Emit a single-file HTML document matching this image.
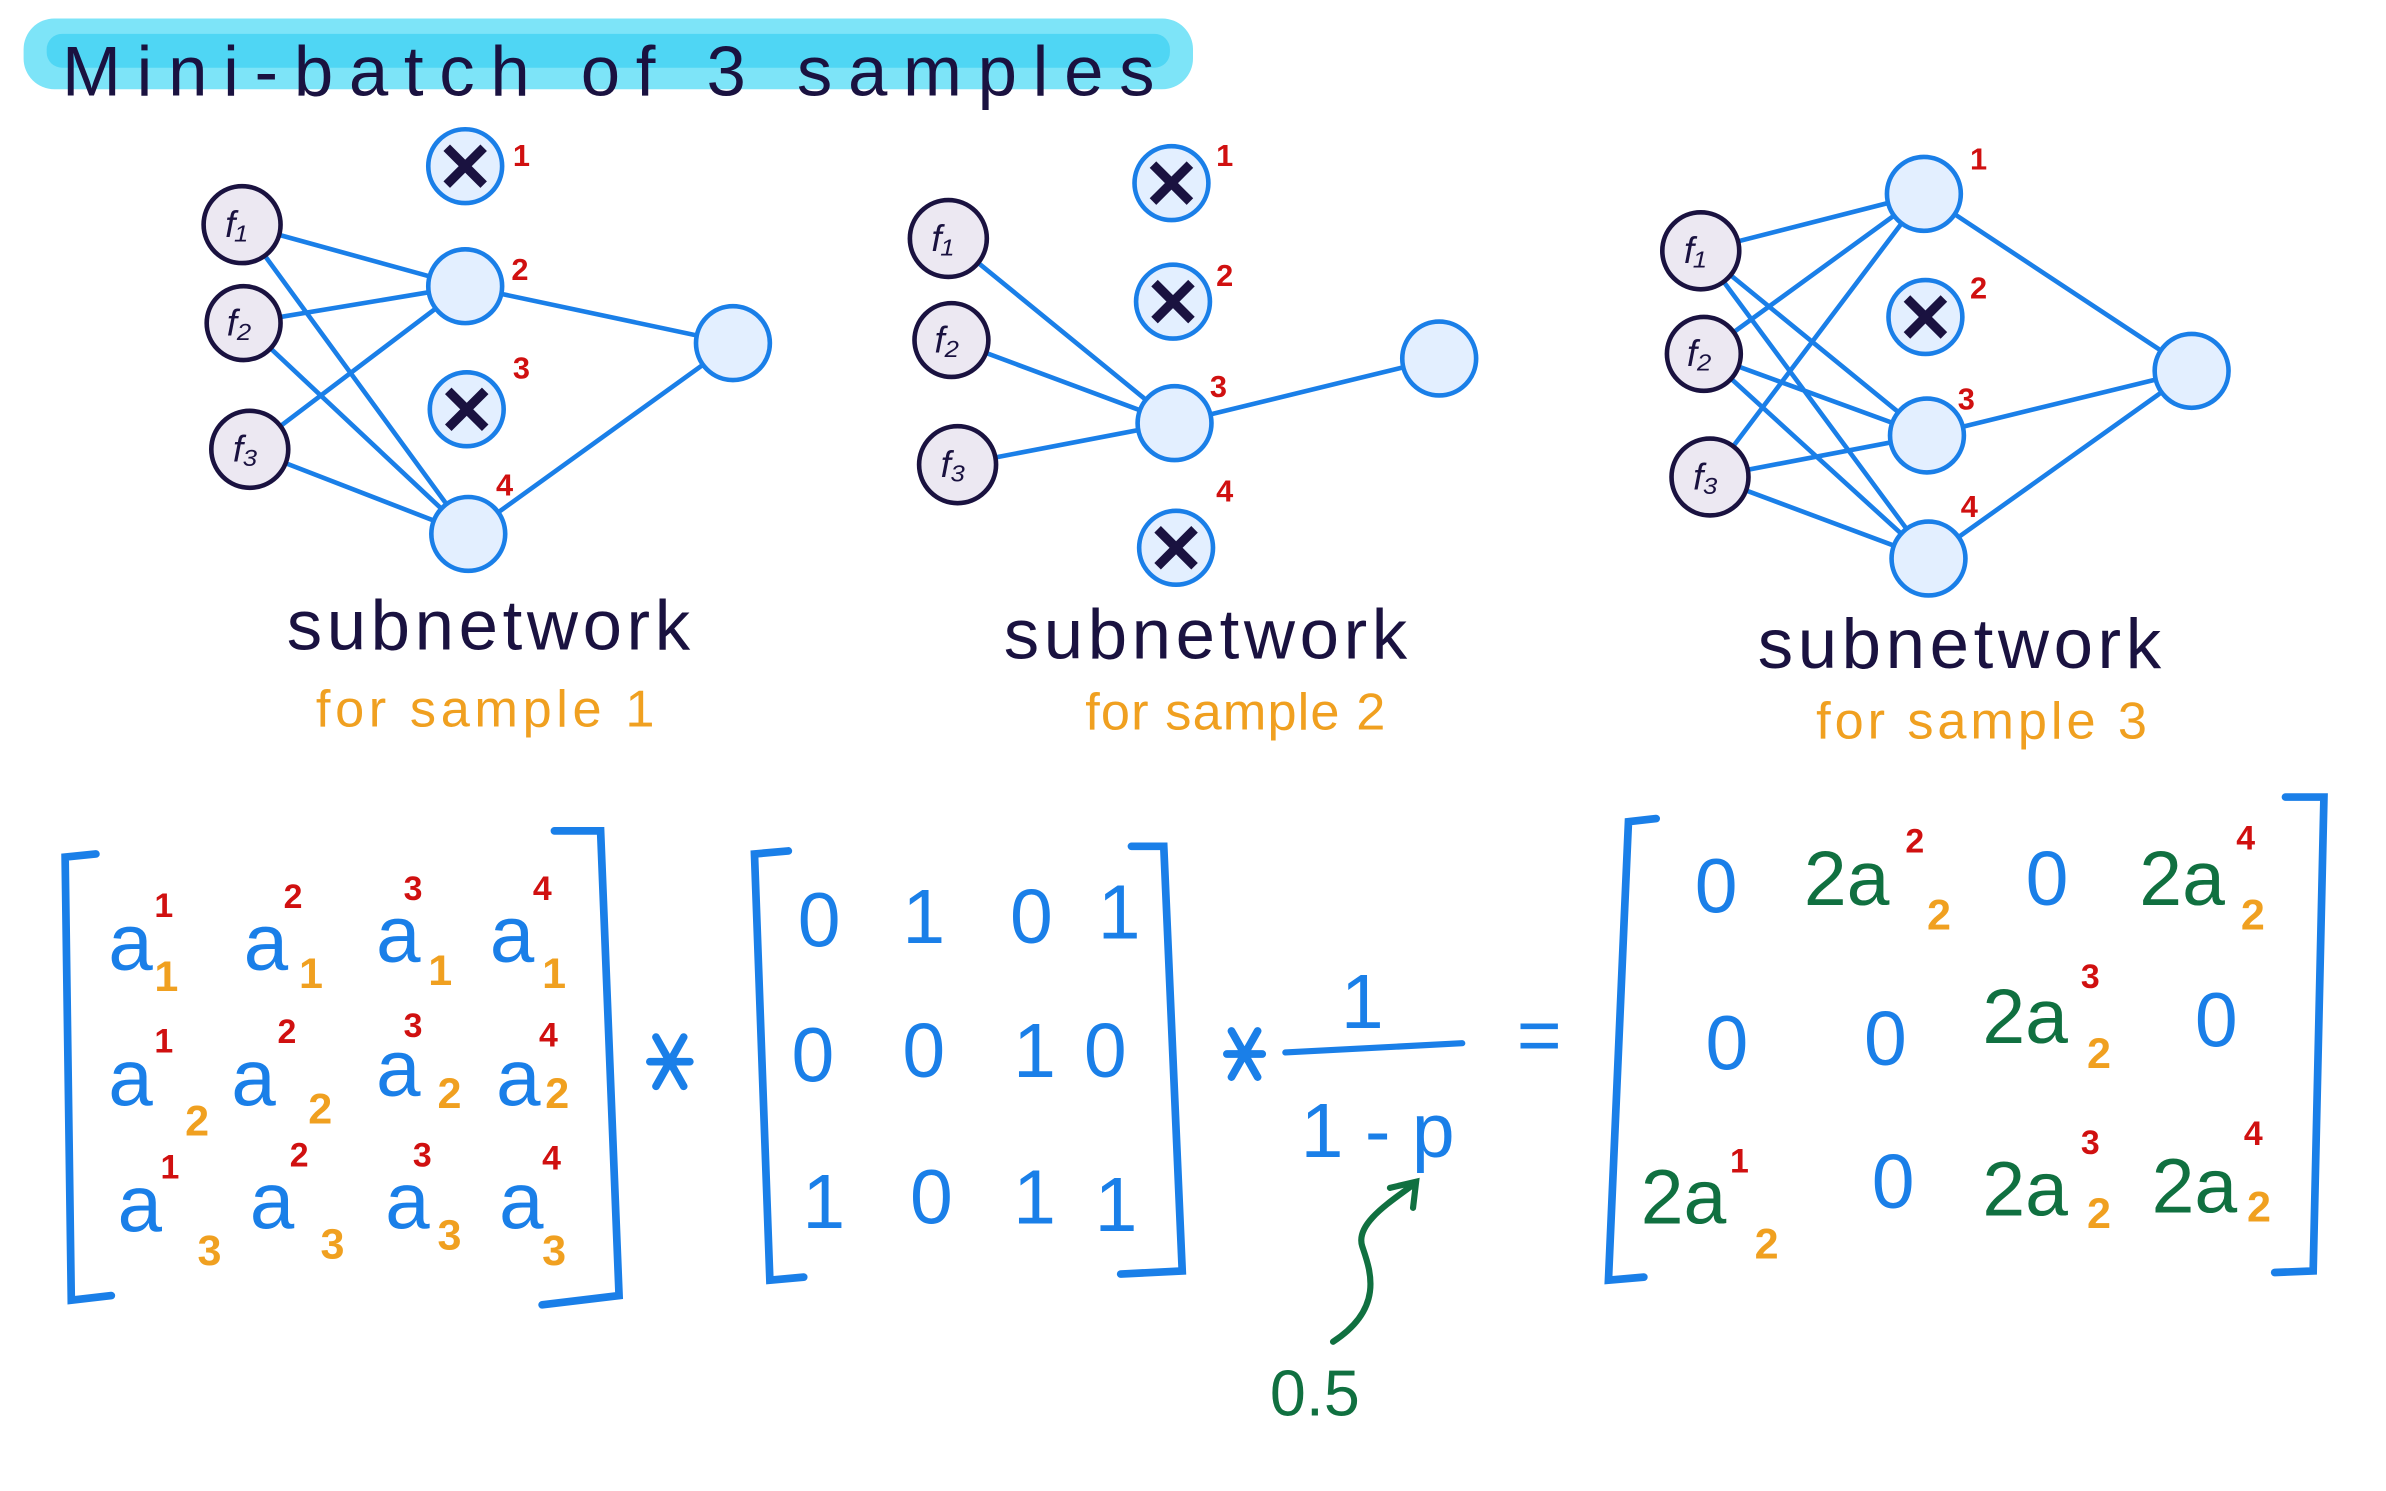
<!DOCTYPE html>
<html><head><meta charset="utf-8"><style>
html,body{margin:0;padding:0;background:#fff}
svg{display:block}
text{font-family:"Liberation Sans",sans-serif}
</style></head><body>
<svg width="2386" height="1491" viewBox="0 0 1550 969" xmlns="http://www.w3.org/2000/svg">
<defs>
<g id="x"><line x1="-12" y1="-12" x2="12" y2="12" stroke="#1a1240" stroke-width="6"/><line x1="12" y1="-12" x2="-12" y2="12" stroke="#1a1240" stroke-width="6"/></g>
</defs>
<rect x="15" y="12" width="760" height="46" rx="20" fill="#7de4f8"/>
<rect x="30" y="22" width="730" height="22" rx="10" fill="#4fd6f4"/>
<text x="40" y="62" font-size="46" fill="#1a1240" textLength="710" lengthAdjust="spacing">Mini-batch of 3 samples</text>

<g stroke="#1a7fe8" stroke-width="3" fill="none">
<path d="M157 146L302 186M157 146L304 347M158 210L302 186M158 210L304 347M162 292L302 186M162 292L304 347M302 186L476 223M304 347L476 223"/>
<path d="M616 155L763 275M618 221L763 275M622 302L763 275M763 275L935 233"/>
<path d="M1105 163L1250 126M1105 163L1252 283M1105 163L1253 363M1107 230L1250 126M1107 230L1252 283M1107 230L1253 363M1111 310L1250 126M1111 310L1252 283M1111 310L1253 363M1250 126L1424 241M1252 283L1424 241M1253 363L1424 241"/>
</g>
<g stroke="#1a1240" stroke-width="3" fill="#ece8f2">
<circle cx="157" cy="146" r="25"/><circle cx="158" cy="210" r="24"/><circle cx="162" cy="292" r="25"/>
<circle cx="616" cy="155" r="25"/><circle cx="618" cy="221" r="24"/><circle cx="622" cy="302" r="25"/>
<circle cx="1105" cy="163" r="25"/><circle cx="1107" cy="230" r="24"/><circle cx="1111" cy="310" r="25"/>
</g>
<g font-size="24" fill="#1a1240" font-style="italic">
<text x="146" y="154">f₁</text><text x="147" y="218">f₂</text><text x="151" y="300">f₃</text>
<text x="605" y="163">f₁</text><text x="607" y="229">f₂</text><text x="611" y="310">f₃</text>
<text x="1094" y="171">f₁</text><text x="1096" y="238">f₂</text><text x="1100" y="318">f₃</text>
</g>
<g stroke="#1a7fe8" stroke-width="3" fill="#e3efff">
<circle cx="302" cy="108" r="24"/><circle cx="302" cy="186" r="24"/><circle cx="303" cy="266" r="24"/><circle cx="304" cy="347" r="24"/><circle cx="476" cy="223" r="24"/>
<circle cx="761" cy="119" r="24"/><circle cx="762" cy="196" r="24"/><circle cx="763" cy="275" r="24"/><circle cx="764" cy="356" r="24"/><circle cx="935" cy="233" r="24"/>
<circle cx="1250" cy="126" r="24"/><circle cx="1251" cy="206" r="24"/><circle cx="1252" cy="283" r="24"/><circle cx="1253" cy="363" r="24"/><circle cx="1424" cy="241" r="24"/>
</g>
<use href="#x" x="302" y="108"/><use href="#x" x="303" y="266"/>
<use href="#x" x="761" y="119"/><use href="#x" x="762" y="196"/><use href="#x" x="764" y="356"/>
<use href="#x" x="1251" y="206"/>
<g font-size="20" fill="#d01010" font-weight="bold">
<text x="333" y="108">1</text><text x="332" y="182">2</text><text x="333" y="246">3</text><text x="322" y="322">4</text>
<text x="790" y="108">1</text><text x="790" y="186">2</text><text x="786" y="258">3</text><text x="790" y="326">4</text>
<text x="1280" y="110">1</text><text x="1280" y="194">2</text><text x="1272" y="266">3</text><text x="1274" y="336">4</text>
</g>
<g font-size="46" fill="#1a1240" letter-spacing="3">
<text x="186" y="422">subnetwork</text><text x="652" y="428">subnetwork</text><text x="1142" y="434">subnetwork</text>
</g>
<g font-size="34" fill="#f0a020">
<text x="205" y="472" textLength="220" lengthAdjust="spacing">for sample 1</text><text x="705" y="474" textLength="195" lengthAdjust="spacing">for sample 2</text><text x="1180" y="480" textLength="215" lengthAdjust="spacing">for sample 3</text>
</g>

<g stroke="#1a7fe8" stroke-width="5" fill="none" stroke-linecap="round">
<path d="M62 555L42 557L46 845L72 842"/><path d="M360 540L390 540L402 842L352 848"/>
<path d="M512 553L490 555L500 832L522 830"/><path d="M735 550L756 550L768 826L728 828"/>
<path d="M1076 532L1058 534L1045 832L1068 830"/><path d="M1485 518L1510 518L1503 826L1478 827"/>
<path d="M422 690L448 690M426 674L444 706M444 674L426 706M797 685L820 685M800 670L817 700M817 670L800 700"/>
</g>
<g font-size="52" fill="#1a7fe8">
<text x="70" y="630">a</text><text x="158" y="630">a</text><text x="244" y="625">a</text><text x="318" y="625">a</text>
<text x="70" y="718">a</text><text x="150" y="718">a</text><text x="244" y="712">a</text><text x="322" y="718">a</text>
<text x="76" y="800">a</text><text x="162" y="798">a</text><text x="250" y="798">a</text><text x="324" y="798">a</text>
</g>
<g font-size="22" fill="#d01010" font-weight="bold">
<text x="100" y="596">1</text><text x="184" y="590">2</text><text x="262" y="585">3</text><text x="346" y="585">4</text>
<text x="100" y="684">1</text><text x="180" y="678">2</text><text x="262" y="674">3</text><text x="350" y="680">4</text>
<text x="104" y="766">1</text><text x="188" y="758">2</text><text x="268" y="758">3</text><text x="352" y="760">4</text>
</g>
<g font-size="28" fill="#f0a020" font-weight="bold">
<text x="100" y="644">1</text><text x="194" y="642">1</text><text x="278" y="640">1</text><text x="352" y="642">1</text>
<text x="120" y="738">2</text><text x="200" y="730">2</text><text x="284" y="720">2</text><text x="354" y="720">2</text>
<text x="128" y="822">3</text><text x="208" y="818">3</text><text x="284" y="812">3</text><text x="352" y="822">3</text>
</g>
<g font-size="50" fill="#1a7fe8" text-anchor="middle">
<text x="532" y="615">0</text><text x="600" y="613">1</text><text x="670" y="613">0</text><text x="727" y="610">1</text>
<text x="528" y="703">0</text><text x="600" y="700">0</text><text x="672" y="700">1</text><text x="718" y="700">0</text>
<text x="535" y="798">1</text><text x="605" y="795">0</text><text x="672" y="795">1</text><text x="725" y="800">1</text>
<text x="885" y="668">1</text><text x="895" y="752">1 - p</text>
<text x="1000" y="690">=</text>
<text x="1115" y="593">0</text><text x="1330" y="588">0</text>
<text x="1122" y="695">0</text><text x="1225" y="692">0</text><text x="1440" y="680">0</text>
<text x="1230" y="785">0</text>
</g>
<line x1="835" y1="684" x2="950" y2="678" stroke="#1a7fe8" stroke-width="4" stroke-linecap="round"/>
<path d="M866 872C900 850 890 825 885 810C880 795 905 780 918 770M903 772L920 768L918 785" stroke="#107040" stroke-width="4" fill="none" stroke-linecap="round"/>
<text x="825" y="920" font-size="42" fill="#107040">0.5</text>
<g font-size="50" fill="#107040">
<text x="1172" y="588">2a</text><text x="1390" y="588">2a</text>
<text x="1288" y="678">2a</text>
<text x="1066" y="795">2a</text><text x="1288" y="790">2a</text><text x="1398" y="788">2a</text>
</g>
<g font-size="22" fill="#d01010" font-weight="bold">
<text x="1238" y="554">2</text><text x="1453" y="552">4</text><text x="1352" y="642">3</text>
<text x="1124" y="762">1</text><text x="1352" y="750">3</text><text x="1458" y="744">4</text>
</g>
<g font-size="28" fill="#f0a020" font-weight="bold">
<text x="1252" y="604">2</text><text x="1456" y="604">2</text><text x="1356" y="694">2</text>
<text x="1140" y="818">2</text><text x="1356" y="798">2</text><text x="1460" y="794">2</text>
</g>
</svg>
</body></html>
